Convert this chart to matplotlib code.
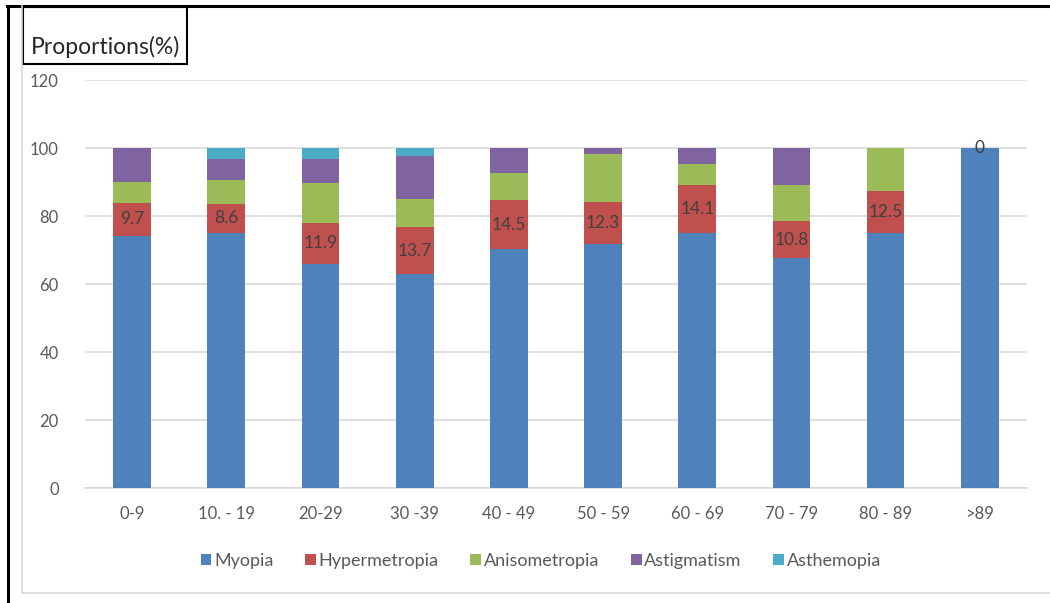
import matplotlib.pyplot as plt
import numpy as np
from matplotlib.patches import Rectangle
from matplotlib.lines import Line2D

plt.rcParams['font.family'] = ['Lato', 'DejaVu Sans']

# Age groups and refractive error proportions (%)
groups = ['0-9', '10. - 19', '20-29', '30 -39', '40 - 49', '50 - 59',
          '60 - 69', '70 - 79', '80 - 89', '>89']
myopia = [74.2, 75.0, 66.0, 63.0, 70.2, 71.7, 75.0, 67.6, 75.0, 100.0]
hypermetropia = [9.7, 8.6, 11.9, 13.7, 14.5, 12.3, 14.1, 10.8, 12.5, 0.0]
anisometropia = [6.1, 7.1, 11.9, 8.4, 7.9, 14.1, 6.1, 10.8, 12.5, 0.0]
astigmatism = [10.0, 6.0, 6.9, 12.5, 7.4, 1.9, 4.8, 10.8, 0.0, 0.0]
asthemopia = [0.0, 3.3, 3.3, 2.4, 0.0, 0.0, 0.0, 0.0, 0.0, 0.0]

series = [('Myopia', myopia, '#4F81BD'),
          ('Hypermetropia', hypermetropia, '#C0504D'),
          ('Anisometropia', anisometropia, '#9BBB59'),
          ('Astigmatism', astigmatism, '#8064A2'),
          ('Asthemopia', asthemopia, '#4BACC6')]

fig = plt.figure(figsize=(10.5, 6.03), dpi=100)
ax = fig.add_axes([0.081, 0.1907, 0.897, 0.6766])

x = np.arange(len(groups))
bottom = np.zeros(len(groups))
for name, vals, col in series:
    bars = ax.bar(x, vals, 0.4, bottom=bottom, color=col, label=name, zorder=3)
    if name == 'Hypermetropia':
        labels = [f'{v:g}' for v in vals]
        ax.bar_label(bars, labels=labels, label_type='center',
                     color='#404040', fontsize=12.5, zorder=4)
    bottom += np.array(vals)

ax.set_xlim(-0.5, len(groups) - 0.5)
ax.set_ylim(0, 120)
ax.set_yticks(range(0, 121, 20))
ax.set_xticks(x)
ax.set_xticklabels(groups)
ax.tick_params(axis='both', length=0, labelsize=12, labelcolor='#595959')
ax.tick_params(axis='y', pad=19)
ax.tick_params(axis='x', pad=13)
ax.yaxis.grid(True, color='#D9D9D9', linewidth=1.2, zorder=0)
for side in ['top', 'right', 'left']:
    ax.spines[side].set_visible(False)
ax.spines['bottom'].set_color('#D9D9D9')
ax.spines['bottom'].set_linewidth(1.2)

handles, names = ax.get_legend_handles_labels()
fig.legend(handles, names, loc='center', bbox_to_anchor=(0.515, 0.07), ncol=5,
           frameon=False, fontsize=13, handlelength=0.6, handleheight=0.6,
           handletextpad=0.15, columnspacing=1.75, labelcolor='#595959')

# outer frame lines
fig.add_artist(Line2D([0.007, 1.0], [0.990, 0.990], color='black', linewidth=2.2))
fig.add_artist(Line2D([0.008, 0.008], [0.0, 0.990], color='black', linewidth=2.2))
fig.add_artist(Line2D([0.021, 0.021], [0.016, 0.990], color='#D9D9D9', linewidth=1.2))
fig.add_artist(Line2D([0.021, 1.0], [0.016, 0.016], color='#D9D9D9', linewidth=1.2))

# y-axis title box
fig.add_artist(Rectangle((0.0215, 0.894), 0.157, 0.094, fill=False,
                         edgecolor='black', linewidth=1.5, transform=fig.transFigure))
fig.text(0.029, 0.922, 'Proportions(%)', fontsize=16.5, color='#262626', va='center')

fig.savefig('out.png', dpi=100)
